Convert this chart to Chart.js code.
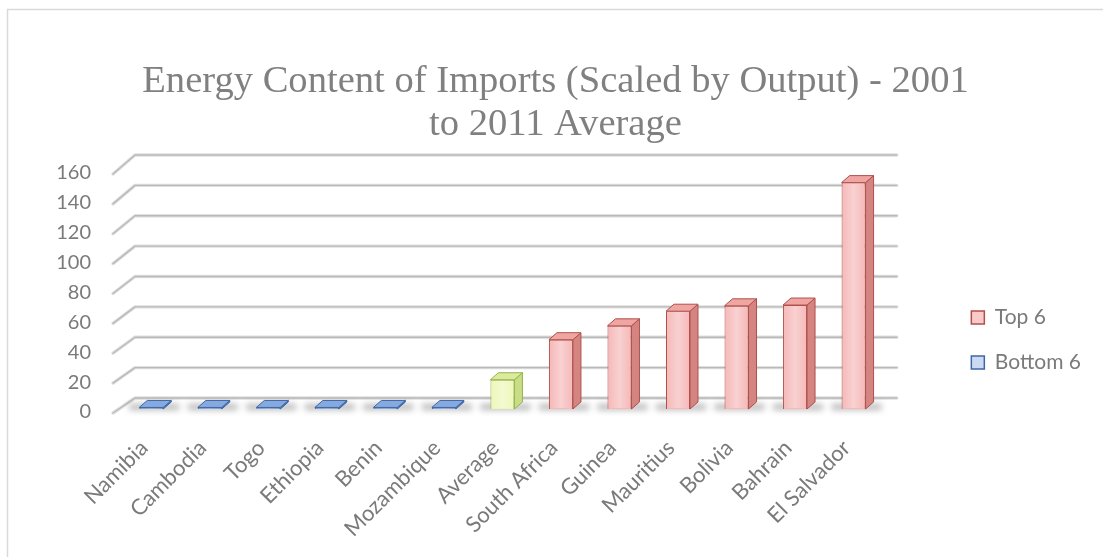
<!DOCTYPE html>
<html>
<head>
<meta charset="utf-8">
<script src="https://cdn.jsdelivr.net/npm/chart.js@4.4.1/dist/chart.umd.min.js"></script>
<style>
  html, body { margin: 0; padding: 0; background: #ffffff; }
  #wrap { width: 1103px; height: 557px; position: relative; }
</style>
</head>
<body>
<div id="wrap"><canvas id="c" width="1103" height="557"></canvas></div>
<script>
// ---- data ----
const categories = ['Namibia','Cambodia','Togo','Ethiopia','Benin','Mozambique','Average','South Africa','Guinea','Mauritius','Bolivia','Bahrain','El Salvador'];
const bottom6Values = [1, 1, 1, 1, 1, 1, null, null, null, null, null, null, null];
const averageValues = [null, null, null, null, null, null, 19, null, null, null, null, null, null];
const top6Values = [null, null, null, null, null, null, null, 45, 54, 63.5, 67, 67.5, 147];
const yTicks = [0, 20, 40, 60, 80, 100, 120, 140, 160];
const titleLines = ['Energy Content of Imports (Scaled by Output) - 2001', 'to 2011 Average'];

const TEXT = '#7a7a7a';
const DX = 8, DY = 7;

const outerBorder = {
  id: 'outerBorder',
  beforeDraw(chart) {
    const ctx = chart.ctx;
    ctx.save();
    ctx.fillStyle = '#ffffff';
    ctx.fillRect(0, 0, chart.width, chart.height);
    ctx.strokeStyle = '#d9d9d9';
    ctx.lineWidth = 1.5;
    ctx.strokeRect(7.5, 9.5, chart.width + 20, chart.height + 20);
    ctx.restore();
  }
};

const wall3d = {
  id: 'wall3d',
  beforeDatasetsDraw(chart) {
    const ctx = chart.ctx;
    const y = chart.scales.y;
    const a = chart.chartArea;
    ctx.save();
    y.ticks.forEach(t => {
      const py = y.getPixelForValue(t.value);
      const back = py - 14 - 4 * (t.value - y.min) / (y.max - y.min);
      const pts = [[a.left - 9, py + 1], [a.left + 13, back], [a.right + 14, back]];
      [['#e0e0e0', 3.4], ['#b9b9b9', 1.4]].forEach(([c, w]) => {
        ctx.strokeStyle = c; ctx.lineWidth = w; ctx.lineJoin = 'round'; ctx.lineCap = 'round';
        ctx.beginPath();
        ctx.moveTo(pts[0][0], pts[0][1]);
        ctx.lineTo(pts[1][0], pts[1][1]);
        ctx.lineTo(pts[2][0], pts[2][1]);
        ctx.stroke();
      });
    });
    // soft floor shadows under the bars
    chart.data.datasets.forEach((ds, di) => {
      const meta = chart.getDatasetMeta(di);
      meta.data.forEach((el, i) => {
        if (ds.data[i] == null) return;
        const p = el.getProps(['x', 'base', 'width'], true);
        ctx.save();
        ctx.filter = 'blur(3px)';
        ctx.fillStyle = 'rgba(0,0,0,0.28)';
        ctx.fillRect(p.x - p.width / 2 - 10, p.base - 5, p.width + DX + 18, 6);
        ctx.restore();
      });
    });
    ctx.restore();
  },
  afterDatasetsDraw(chart) {
    const ctx = chart.ctx;
    chart.data.datasets.forEach((ds, di) => {
      const meta = chart.getDatasetMeta(di);
      meta.data.forEach((el, i) => {
        if (ds.data[i] == null) return;
        const p = el.getProps(['x', 'y', 'base', 'width'], true);
        const l = p.x - p.width / 2, r = p.x + p.width / 2;
        ctx.save();
        const g = ctx.createLinearGradient(l, 0, r, 0);
        g.addColorStop(0, 'rgba(255,255,255,0)');
        g.addColorStop(0.5, 'rgba(255,255,255,0.35)');
        g.addColorStop(1, 'rgba(255,255,255,0)');
        ctx.fillStyle = g;
        ctx.fillRect(l + 1, p.y + 1, p.width - 2, p.base - p.y - 2);
        ctx.lineWidth = 1;
        ctx.strokeStyle = ds.borderColor;
        ctx.fillStyle = ds.sideColor;
        ctx.beginPath();
        ctx.moveTo(r, p.y); ctx.lineTo(r + DX, p.y - DY); ctx.lineTo(r + DX, p.base - DY); ctx.lineTo(r, p.base);
        ctx.closePath(); ctx.fill(); ctx.stroke();
        ctx.fillStyle = ds.topColor;
        ctx.beginPath();
        ctx.moveTo(l, p.y); ctx.lineTo(l + DX, p.y - DY); ctx.lineTo(r + DX, p.y - DY); ctx.lineTo(r, p.y);
        ctx.closePath(); ctx.fill(); ctx.stroke();
        ctx.restore();
      });
    });
  }
};

Chart.defaults.font.family = 'Lato, "Open Sans", sans-serif';
Chart.defaults.color = TEXT;

new Chart(document.getElementById('c'), {
  type: 'bar',
  data: {
    labels: categories,
    datasets: [
      { label: 'Top 6', data: top6Values, yAxisID: 'yb', grouped: false,
        backgroundColor: '#f6b8b8', borderColor: '#b0504c', borderWidth: 1,
        sideColor: '#d48481', topColor: '#efa5a2', legendFill: '#fdc9c9' },
      { label: 'Bottom 6', data: bottom6Values, yAxisID: 'yb', grouped: false,
        backgroundColor: '#6d96d3', borderColor: '#3e67a6', borderWidth: 1,
        sideColor: '#4d78b8', topColor: '#86a9df', legendFill: '#c9daf2' },
      { label: 'Average', data: averageValues, yAxisID: 'yb', grouped: false,
        backgroundColor: '#eef7b8', borderColor: '#93b44a', borderWidth: 1,
        sideColor: '#c9dd86', topColor: '#dcea9e', legendFill: '#eef7b8' }
    ]
  },
  options: {
    responsive: false,
    animation: false,
    layout: { padding: { left: 20, right: 12, top: 0, bottom: 0 } },
    datasets: { bar: { categoryPercentage: 1, barPercentage: 0.41 } },
    scales: {
      x: {
        grid: { display: false, drawTicks: false }, border: { display: false },
        ticks: { autoSkip: false, maxRotation: 45, minRotation: 45, padding: 23, labelOffset: -7,
                 color: TEXT, font: { size: 22 } },
        afterFit: s => { s.height = 145; }
      },
      y: {
        position: 'left', min: 0, max: 160,
        afterBuildTicks: s => { s.ticks = yTicks.map(v => ({ value: v })); },
        grid: { display: false, drawTicks: false }, border: { display: false },
        ticks: { padding: 31, color: TEXT, font: { size: 20 } },
        afterFit: s => { s.width = 102; }
      },
      yb: {
        position: 'right', min: -1.95, max: 153.25,
        grid: { display: false, drawTicks: false }, border: { display: false },
        ticks: { display: false },
        afterFit: s => { s.width = 64.5; }
      }
    },
    plugins: {
      title: {
        display: true, text: titleLines, color: '#808080',
        font: { family: '"Liberation Serif", "DejaVu Serif", serif', size: 38.6, weight: 'normal', lineHeight: 1.115 },
        padding: { top: 60, bottom: 26.9 }
      },
      legend: {
        position: 'right',
        title: { display: true, text: '', padding: { top: 99, bottom: 0 }, font: { size: 20 } },
        labels: {
          boxWidth: 13, boxHeight: 13, padding: 24, color: TEXT, font: { size: 21 },
          filter: item => item.text !== 'Average',
          generateLabels: chart => chart.data.datasets.map((ds, i) => ({
            text: ds.label, fillStyle: ds.legendFill, strokeStyle: ds.borderColor,
            lineWidth: 1.5, hidden: false, datasetIndex: i, fontColor: TEXT
          }))
        }
      },
      tooltip: { enabled: false }
    }
  },
  plugins: [outerBorder, wall3d]
});
</script>
</body>
</html>
